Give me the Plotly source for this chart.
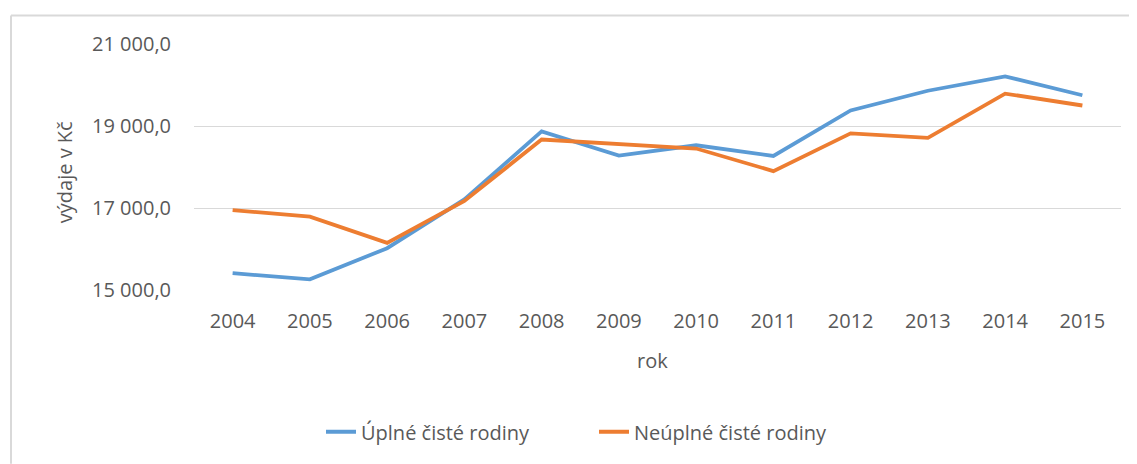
import plotly.graph_objects as go

years = ["2004", "2005", "2006", "2007", "2008", "2009", "2010", "2011", "2012", "2013", "2014", "2015"]
uplne = [15410, 15260, 16020, 17210, 18870, 18280, 18530, 18270, 19380, 19860, 20210, 19750]
neuplne = [16950, 16790, 16150, 17170, 18670, 18570, 18450, 17900, 18820, 18710, 19790, 19500]
series_names = ["Úplné čisté rodiny", "Neúplné čisté rodiny"]
y_ticks = [15000, 17000, 19000, 21000]
y_ticktext = [f"{v:,.1f}".replace(",", " ").replace(".", ",") for v in y_ticks]

FONT = "Open Sans, Liberation Sans, sans-serif"
GREY = "#595959"

fig = go.Figure()
fig.add_trace(go.Scatter(x=years, y=uplne, mode="lines", name=series_names[0],
                         line=dict(color="#5B9BD5", width=3.8)))
fig.add_trace(go.Scatter(x=years, y=neuplne, mode="lines", name=series_names[1],
                         line=dict(color="#ED7D31", width=3.8)))

# page body has an 8px margin; lay out in reference-pixel terms
OFF = 8
W, H = 1137 - OFF, 464 - OFF
L, R, T, B = 194 - OFF, 16, 43.6 - OFF, 174
pw, ph = W - L - R, H - T - B

def px(x):
    return (x - OFF - L) / pw

def py(y):
    return (H - B - (y - OFF)) / ph

fig.update_layout(
    width=W, height=H,
    margin=dict(l=L, r=R, t=T, b=B, autoexpand=False),
    paper_bgcolor="white", plot_bgcolor="white",
    font=dict(family=FONT, size=20, color=GREY),
    showlegend=True,
    legend=dict(orientation="h", x=px(321), xanchor="left", y=py(432), yanchor="middle",
                entrywidth=228, entrywidthmode="pixels",
                font=dict(size=20, color=GREY), bgcolor="rgba(0,0,0,0)"),
    xaxis=dict(type="category", range=[-0.5, len(years) - 0.5], showgrid=False,
               zeroline=False, showline=False, automargin=False,
               ticks="", tickfont=dict(size=20, color=GREY), ticklabelstandoff=17),
    yaxis=dict(range=[15000, 21000], tickvals=y_ticks, ticktext=y_ticktext,
               showgrid=True, gridcolor="#d9d9d9", gridwidth=1.2, zeroline=False,
               showline=False, ticks="", automargin=False,
               tickfont=dict(size=20, color=GREY), ticklabelstandoff=22),
    annotations=[
        dict(text="rok", x=px(652), y=py(361), xref="paper", yref="paper",
             xanchor="center", yanchor="middle", showarrow=False,
             font=dict(size=20, color=GREY)),
        dict(text="výdaje v Kč", x=px(64), y=py(172), xref="paper", yref="paper",
             xanchor="center", yanchor="middle", showarrow=False, textangle=-90,
             font=dict(size=20, color=GREY)),
    ],
    shapes=[
        dict(type="line", xref="paper", yref="paper", x0=px(11), x1=px(1137), y0=py(15), y1=py(15),
             line=dict(color="#d9d9d9", width=2)),
        dict(type="line", xref="paper", yref="paper", x0=px(11), x1=px(11), y0=py(15), y1=py(464),
             line=dict(color="#d9d9d9", width=2)),
    ],
)

fig.write_html("out.html")
